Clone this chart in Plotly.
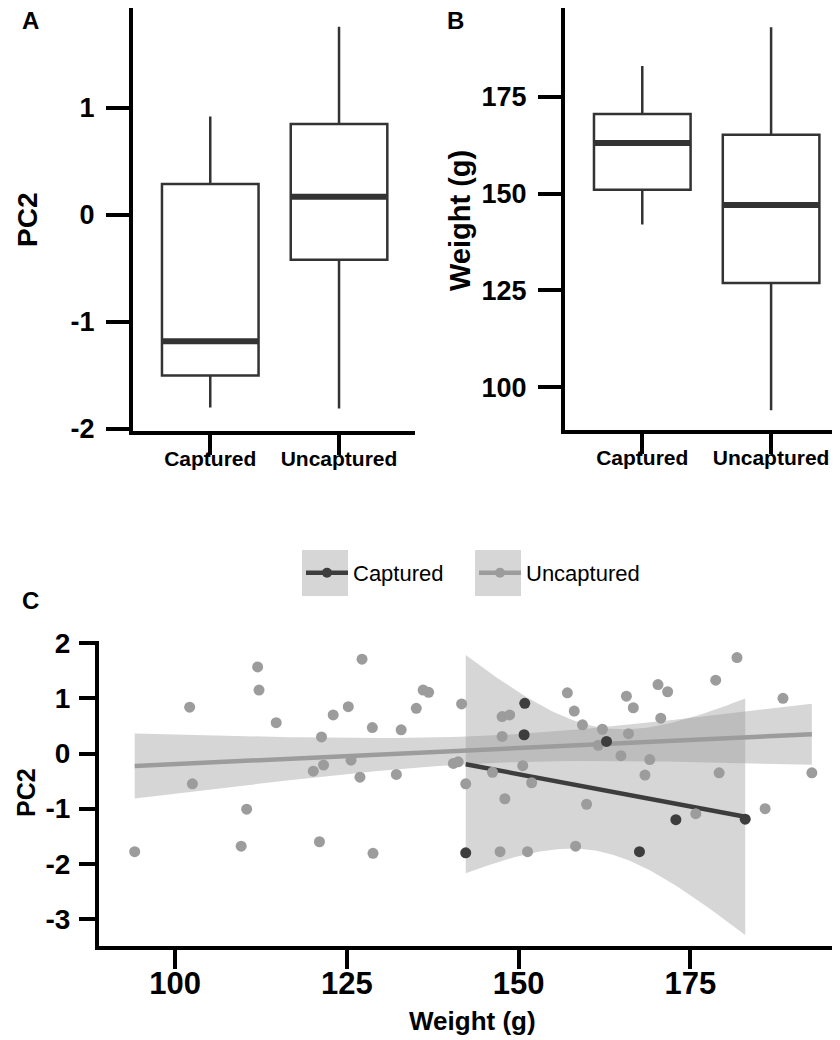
import math
import numpy as np
import plotly.graph_objects as go

# ---------------- data ----------------
box_categories = ["Captured", "Uncaptured"]

pc2_lower = [-1.80, -1.81]
pc2_q1 = [-1.50, -0.42]
pc2_median = [-1.18, 0.17]
pc2_q3 = [0.29, 0.85]
pc2_upper = [0.92, 1.76]

weight_lower = [142.0, 94.0]
weight_q1 = [151.0, 126.9]
weight_median = [163.1, 147.1]
weight_q3 = [170.6, 165.2]
weight_upper = [183.0, 193.0]

captured_weight = [142.3, 150.8, 150.9, 162.8, 167.6, 172.9, 183.0]
captured_pc2 = [-1.80, 0.34, 0.91, 0.22, -1.78, -1.20, -1.19]

uncaptured_weight = [112.0, 112.2, 102.1, 114.7, 102.5, 110.4, 109.6, 94.1,
                     127.2, 136.1, 136.9, 141.7, 125.2, 123.0, 135.1, 128.7,
                     132.9, 121.3, 121.6, 120.1, 125.6, 126.9, 132.2, 140.5,
                     141.2, 142.3, 121.0, 128.8,
                     157.1, 165.7, 170.3, 171.7, 166.7, 170.7, 147.6, 148.7,
                     158.1, 159.3, 162.2, 166.0, 147.6, 161.6, 164.9, 169.1,
                     168.4, 150.6, 146.2, 151.9, 148.0, 159.9, 147.3, 151.3,
                     158.3,
                     181.8, 178.7, 188.5, 179.2, 192.7, 185.9, 175.8]
uncaptured_pc2 = [1.57, 1.15, 0.84, 0.56, -0.55, -1.01, -1.68, -1.78,
                  1.71, 1.15, 1.11, 0.90, 0.85, 0.70, 0.82, 0.47,
                  0.43, 0.30, -0.21, -0.32, -0.12, -0.43, -0.38, -0.18,
                  -0.15, -0.55, -1.60, -1.81,
                  1.10, 1.04, 1.25, 1.12, 0.83, 0.64, 0.67, 0.70,
                  0.77, 0.52, 0.44, 0.36, 0.31, 0.15, -0.04, -0.11,
                  -0.39, -0.22, -0.34, -0.53, -0.82, -0.92, -1.78, -1.78,
                  -1.68,
                  1.74, 1.33, 1.00, -0.35, -0.35, -1.00, -1.09]

weight_ticks = [100, 125, 150, 175]
pc2_ticks_ab = [-2, -1, 0, 1]
pc2_ticks_c = [-3, -2, -1, 0, 1, 2]

# ---------------- styles ----------------
# the page body keeps an 8px margin, so the figure is 8px smaller than the window
OFF = 8
W, H = 840 - OFF, 1040 - OFF
FONT = "Liberation Sans, Arial, sans-serif"
BOX_LINE = "#333333"
DARK = "#3d3d3d"
LIGHT = "#9c9c9c"
BAND = "rgba(153,153,153,0.4)"
KEY_BG = "#d6d6d6"


def fx(p):
    return (p - OFF) / W


def fy(p):
    return 1 - (p - OFF) / H


def t_quantile(p, df):
    c = math.exp(math.lgamma((df + 1) / 2) - math.lgamma(df / 2)) / math.sqrt(df * math.pi)

    def cdf(t):
        xs = np.linspace(0, t, 4001)
        pdf = c * (1 + xs ** 2 / df) ** (-(df + 1) / 2)
        return 0.5 + np.trapezoid(pdf, xs)

    lo, hi = 0.0, 30.0
    for _ in range(60):
        mid = (lo + hi) / 2
        if cdf(mid) < p:
            lo = mid
        else:
            hi = mid
    return (lo + hi) / 2


def lm_fit(xv, yv, n_pts=80):
    x = np.asarray(xv, float)
    y = np.asarray(yv, float)
    n = len(x)
    xm, ym = x.mean(), y.mean()
    sxx = ((x - xm) ** 2).sum()
    b = ((x - xm) * (y - ym)).sum() / sxx
    a = ym - b * xm
    resid = y - (a + b * x)
    s = math.sqrt((resid ** 2).sum() / (n - 2))
    xs = np.linspace(x.min(), x.max(), n_pts)
    fit = a + b * xs
    se = s * np.sqrt(1 / n + (xs - xm) ** 2 / sxx)
    tq = t_quantile(0.975, n - 2)
    return xs, fit, fit - tq * se, fit + tq * se


fig = go.Figure()

# ---------------- panels A & B (boxplots) ----------------
box_x = list(range(len(box_categories)))
for (lo, q1, med, q3, up, xa, ya) in [
    (pc2_lower, pc2_q1, pc2_median, pc2_q3, pc2_upper, "x", "y"),
    (weight_lower, weight_q1, weight_median, weight_q3, weight_upper, "x2", "y2"),
]:
    fig.add_trace(go.Box(
        x=box_x, q1=q1, median=med, q3=q3, lowerfence=lo, upperfence=up,
        width=0.75, fillcolor="white", line=dict(color=BOX_LINE, width=2.5),
        whiskerwidth=0, boxpoints=False, showlegend=False, hoverinfo="skip",
        xaxis=xa, yaxis=ya))
    mx, my = [], []
    for i, m in zip(box_x, med):
        mx += [i - 0.375, i + 0.375, None]
        my += [m, m, None]
    fig.add_trace(go.Scatter(x=mx, y=my, mode="lines",
                             line=dict(color=BOX_LINE, width=6),
                             showlegend=False, hoverinfo="skip",
                             xaxis=xa, yaxis=ya))

# ---------------- panel C (scatter + lm) ----------------
groups = [
    ("Captured", captured_weight, captured_pc2, DARK, "legend"),
    ("Uncaptured", uncaptured_weight, uncaptured_pc2, LIGHT, "legend2"),
]
fits = {g[0]: lm_fit(g[1], g[2]) for g in groups}

for name, _, _, col, _ in groups:
    xs, fit, lo, hi = fits[name]
    fig.add_trace(go.Scatter(
        x=np.concatenate([xs, xs[::-1]]), y=np.concatenate([hi, lo[::-1]]),
        fill="toself", fillcolor=BAND, line=dict(width=0), mode="lines",
        showlegend=False, hoverinfo="skip", xaxis="x3", yaxis="y3"))
for name, _, _, col, _ in groups:
    xs, fit, lo, hi = fits[name]
    fig.add_trace(go.Scatter(x=xs, y=fit, mode="lines",
                             line=dict(color=col, width=4.5),
                             showlegend=False, hoverinfo="skip",
                             xaxis="x3", yaxis="y3"))
for name, xw, yp, col, _ in groups[::-1]:
    fig.add_trace(go.Scatter(x=xw, y=yp, mode="markers",
                             marker=dict(color=col, size=11),
                             showlegend=False, name=name,
                             xaxis="x3", yaxis="y3"))
# legend entries
for name, _, _, col, leg in groups:
    fig.add_trace(go.Scatter(x=[None], y=[None], mode="lines+markers", name=name,
                             line=dict(color=col, width=4.5),
                             marker=dict(color=col, size=10),
                             legend=leg, xaxis="x3", yaxis="y3"))

# ---------------- axes ----------------
base = dict(showline=True, linecolor="black", linewidth=4, ticks="outside",
            tickcolor="black", tickwidth=3.5, showgrid=False, zeroline=False,
            mirror=False, fixedrange=True, automargin=False)

cat_axis = dict(base, tickvals=box_x, ticktext=box_categories, ticklen=20,
                ticklabelstandoff=-14,
                tickfont=dict(family=FONT, size=21, color="black", weight="bold"))


def tick_text(vals):
    return [str(v) for v in vals]


leg_common = dict(orientation="h", xanchor="left", yanchor="middle", y=fy(573),
                  font=dict(family=FONT, size=22, color="black"),
                  bgcolor="rgba(0,0,0,0)", borderwidth=0, itemwidth=42)

fig.update_layout(
    width=W, height=H, margin=dict(l=0, r=0, t=0, b=0, pad=0),
    paper_bgcolor="white", plot_bgcolor="white",
    xaxis=dict(cat_axis, domain=[fx(133), fx(415)], range=[-0.6, 1.59], anchor="y"),
    yaxis=dict(base, domain=[fy(431), fy(8)], range=[-2.02, 1.935], anchor="x",
               tickvals=pc2_ticks_ab, ticktext=tick_text(pc2_ticks_ab),
               ticklen=23, ticklabelstandoff=6,
               tickfont=dict(family=FONT, size=27, color="black", weight="bold")),
    xaxis2=dict(cat_axis, domain=[fx(565), 1.0], range=[-0.6, 1.535], anchor="y2"),
    yaxis2=dict(base, domain=[fy(430), fy(8)], range=[88.9, 198.0], anchor="x2",
                tickvals=weight_ticks, ticktext=tick_text(weight_ticks),
                ticklen=23, ticklabelstandoff=6,
                tickfont=dict(family=FONT, size=27, color="black", weight="bold")),
    xaxis3=dict(base, domain=[fx(99), 1.0], range=[88.9, 196.8], anchor="y3",
                tickvals=weight_ticks, ticktext=tick_text(weight_ticks),
                ticklen=19, ticklabelstandoff=-12,
                tickfont=dict(family=FONT, size=31, color="black", weight="bold")),
    yaxis3=dict(base, domain=[fy(946), fy(641)], range=[-3.49, 2.04], anchor="x3",
                tickvals=pc2_ticks_c, ticktext=tick_text(pc2_ticks_c),
                ticklen=16, ticklabelstandoff=3,
                tickfont=dict(family=FONT, size=28, color="black", weight="bold")),
    legend=dict(leg_common, x=fx(301)),
    legend2=dict(leg_common, x=fx(474)),
    showlegend=True,
)

# grey key backgrounds of the legend
for x0, x1 in [(302, 348), (475, 521)]:
    fig.add_shape(type="rect", xref="paper", yref="paper",
                  x0=fx(x0), x1=fx(x1), y0=fy(596), y1=fy(550),
                  fillcolor=KEY_BG, line=dict(width=0), layer="below")

# ---------------- text ----------------
ann = []


def add_text(text, x, y, size, angle=0, bold=True):
    ann.append(dict(text=text, x=fx(x), y=fy(y), xref="paper", yref="paper",
                    showarrow=False, textangle=angle, xanchor="center", yanchor="middle",
                    font=dict(family=FONT, size=size, color="black",
                              weight="bold" if bold else "normal")))


add_text("A", 30, 20, 24)
add_text("B", 455, 20, 24)
add_text("C", 30, 600, 24)
add_text("PC2", 27, 220, 28, -90)
add_text("Weight (g)", 460, 220, 29, -90)
add_text("PC2", 26, 793, 25, -90)
add_text("Weight (g)", 472, 1021, 26)
fig.update_layout(annotations=ann)

fig.write_html("out.html")
